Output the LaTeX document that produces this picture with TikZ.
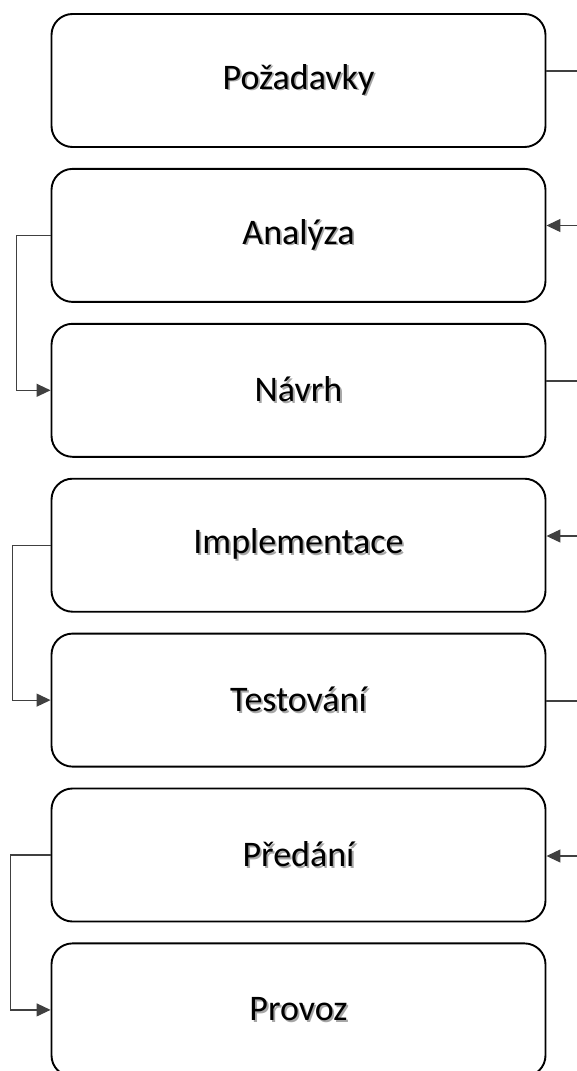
\documentclass[tikz,border=0pt]{standalone}
\usepackage{fontspec}
\setmainfont{Carlito}
\usetikzlibrary{positioning,arrows.meta}

\newcommand{\shadowtxt}[1]{\makebox[0pt][l]{\hspace{1.8pt}\raisebox{-1.8pt}{\textcolor{black!35}{#1}}}#1}

\tikzset{
  phase/.style={draw=black, line width=1.9pt, rounded corners=21pt, minimum width=494pt, minimum height=133pt, inner sep=0pt, font=\fontsize{36}{42}\selectfont},
  link/.style={draw=black!75, line width=1.2pt},
  tip/.style={-{Triangle[length=14pt,width=13pt]}}
}

\begin{document}
\begin{tikzpicture}[x=1pt,y=-1pt]
\useasboundingbox (0,0) rectangle (577,1071);

% phases
\node[phase] (req) at (298.5,80.5) {\shadowtxt{Požadavky}};
\node[phase, below=20pt of req] (ana) {\shadowtxt{Analýza}};
\node[phase, below=20pt of ana] (des) {\shadowtxt{Návrh}};
\node[phase, below=20pt of des] (imp) {\shadowtxt{Implementace}};
\node[phase, below=20pt of imp] (tst) {\shadowtxt{Testování}};
\node[phase, below=20pt of tst] (dlv) {\shadowtxt{Předání}};
\node[phase, below=20pt of dlv] (ops) {\shadowtxt{Provoz}};

% links leaving on the right
\coordinate (r1) at (590,71);
\coordinate (r2) at (590,225.5);
\coordinate (r3) at (590,381);
\coordinate (r4) at (590,536);
\coordinate (r5) at (590,701);
\coordinate (r6) at (590,856);
\draw[link] (req.east |- r1) -- (r1);
\draw[link,tip] (r2) -- (ana.east |- r2);
\draw[link] (des.east |- r3) -- (r3);
\draw[link,tip] (r4) -- (imp.east |- r4);
\draw[link] (tst.east |- r5) -- (r5);
\draw[link,tip] (r6) -- (dlv.east |- r6);

% links on the left
\draw[link,tip] (ana.west) -- ++(-34,0) |- (des.west);
\draw[link,tip] (imp.west) -- ++(-38,0) |- (tst.west);
\draw[link,tip] (dlv.west) -- ++(-40,0) |- (ops.west);
\end{tikzpicture}
\end{document}
